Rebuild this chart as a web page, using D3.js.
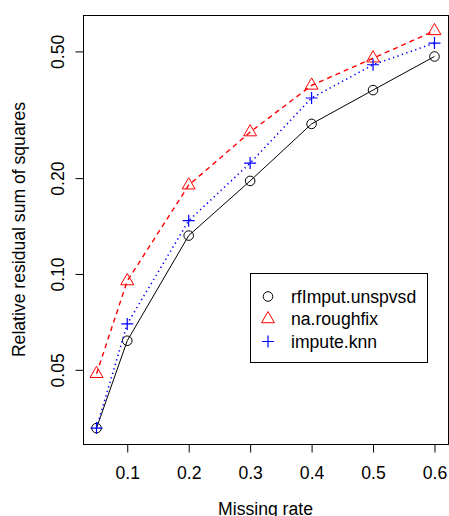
<!DOCTYPE html>
<html>
<head>
<meta charset="utf-8">
<script src="https://cdn.jsdelivr.net/npm/d3@7"></script>
<style>
  html, body { margin: 0; padding: 0; background: #fff; }
  svg { display: block; }
  text { font-family: "Liberation Sans", Arial, sans-serif; fill: #000; }
</style>
</head>
<body>
<div id="chart"></div>
<script>
// ---- data ----
const missingRate = [0.05, 0.1, 0.2, 0.3, 0.4, 0.5, 0.6];
const rfImputUnspvsd = [0.0328, 0.0617, 0.132, 0.196, 0.296, 0.378, 0.482];
const naRoughfix = [0.0486, 0.095, 0.190, 0.279, 0.391, 0.476, 0.580];
const imputeKnn = [0.0328, 0.0697, 0.147, 0.223, 0.357, 0.454, 0.531];
const xTicks = [0.1, 0.2, 0.3, 0.4, 0.5, 0.6];
const yTicks = [0.05, 0.10, 0.20, 0.50];
const yTickLabels = ["0.05", "0.10", "0.20", "0.50"];
const seriesNames = ["rfImput.unspvsd", "na.roughfix", "impute.knn"];

const W = 449, H = 516;
const mLeft = 83, mRight = 448, mTop = 15, mBottom = 444;
const fontSize = 17.6;

const svg = d3.select("#chart").append("svg")
  .attr("width", W).attr("height", H);

// R-style 4% extension of ranges
const xr = d3.extent(missingRate);
const xpad = (xr[1] - xr[0]) * 0.04;
const x = d3.scaleLinear().domain([xr[0] - xpad, xr[1] + xpad]).range([mLeft, mRight]);

const allY = rfImputUnspvsd.concat(naRoughfix, imputeKnn);
const ly = d3.extent(allY).map(Math.log10);
const lpad = (ly[1] - ly[0]) * 0.04;
const y = d3.scaleLog().domain([Math.pow(10, ly[0] - lpad), Math.pow(10, ly[1] + lpad)]).range([mBottom, mTop]);

// axes
const xAxis = d3.axisBottom(x).tickValues(xTicks).tickSize(8).tickFormat(d3.format(".1f"));
const gx = svg.append("g").attr("transform", `translate(0,${mBottom + 0.5})`).call(xAxis);
gx.select(".domain").remove();
gx.selectAll(".tick line").attr("stroke", "#000");
gx.selectAll(".tick text").attr("font-size", fontSize).attr("y", 0).attr("dy", 0)
  .attr("transform", "translate(0,34)")
  .style("font-family", '"Liberation Sans", Arial, sans-serif').attr("fill", "#000");

const yAxis = d3.axisLeft(y).tickValues(yTicks).tickSize(8)
  .tickFormat((d, i) => yTickLabels[i]);
const gy = svg.append("g").attr("transform", `translate(${mLeft + 0.5},0)`).call(yAxis);
gy.select(".domain").remove();
gy.selectAll(".tick line").attr("stroke", "#000");
gy.selectAll(".tick text")
  .attr("x", null).attr("dy", null)
  .attr("text-anchor", "middle")
  .attr("font-size", fontSize)
  .attr("transform", "translate(-20,0) rotate(-90)")
  .style("font-family", '"Liberation Sans", Arial, sans-serif').attr("fill", "#000");

// box
svg.append("rect")
  .attr("x", mLeft + 0.5).attr("y", mTop + 0.5)
  .attr("width", mRight - mLeft).attr("height", mBottom - mTop)
  .attr("fill", "none").attr("stroke", "#000").attr("stroke-width", 1);

// axis titles
svg.append("text").attr("x", (mLeft + mRight) / 2).attr("y", 515)
  .attr("text-anchor", "middle").attr("font-size", fontSize).text("Missing rate");
svg.append("text")
  .attr("transform", `translate(25,${(mTop + mBottom) / 2}) rotate(-90)`)
  .attr("text-anchor", "middle").attr("font-size", fontSize)
  .text("Relative residual sum of squares");

// series
const series = [
  { name: seriesNames[0], vals: rfImputUnspvsd, color: "#000000", dash: null, shape: "circle" },
  { name: seriesNames[1], vals: naRoughfix, color: "#FF0000", dash: "5,4", shape: "triangle" },
  { name: seriesNames[2], vals: imputeKnn, color: "#0000FF", dash: "1.3,3.4", shape: "plus" }
];

const line = d3.line().x(d => x(d[0])).y(d => y(d[1]));
const R = 4.8;

function drawMarker(g, shape, cx, cy, color) {
  if (shape === "circle") {
    g.append("circle").attr("cx", cx).attr("cy", cy).attr("r", R)
      .attr("fill", "none").attr("stroke", color).attr("stroke-width", 1);
  } else if (shape === "triangle") {
    const r = 1.5551 * R, yc = 0.7776 * R, xc = 1.3468 * R;
    g.append("path")
      .attr("d", `M${cx},${cy - r}L${cx + xc},${cy + yc}L${cx - xc},${cy + yc}Z`)
      .attr("fill", "none").attr("stroke", color).attr("stroke-width", 1);
  } else {
    const a = 6;
    g.append("path")
      .attr("d", `M${cx - a},${cy}H${cx + a}M${cx},${cy - a}V${cy + a}`)
      .attr("fill", "none").attr("stroke", color).attr("stroke-width", 1.2);
  }
}

series.forEach(s => {
  const pts = missingRate.map((m, i) => [m, s.vals[i]]);
  const g = svg.append("g");
  g.append("path").datum(pts).attr("d", line)
    .attr("fill", "none").attr("stroke", s.color)
    .attr("stroke-width", s.shape === "plus" ? 1.6 : (s.shape === "triangle" ? 1.4 : 1))
    .attr("stroke-dasharray", s.dash);
  pts.forEach(p => drawMarker(g, s.shape, x(p[0]), y(p[1]), s.color));
});

// legend
const lg = svg.append("g");
lg.append("rect").attr("x", 250.5).attr("y", 273.5).attr("width", 177).attr("height", 89)
  .attr("fill", "#fff").attr("stroke", "#000").attr("stroke-width", 1);
const rowsY = [296.5, 319, 341.5];
series.forEach((s, i) => {
  drawMarker(lg, s.shape, 268, rowsY[i], s.color);
  lg.append("text").attr("x", 291).attr("y", rowsY[i]).attr("dy", "0.35em")
    .attr("font-size", fontSize).text(s.name);
});
</script>
</body>
</html>
